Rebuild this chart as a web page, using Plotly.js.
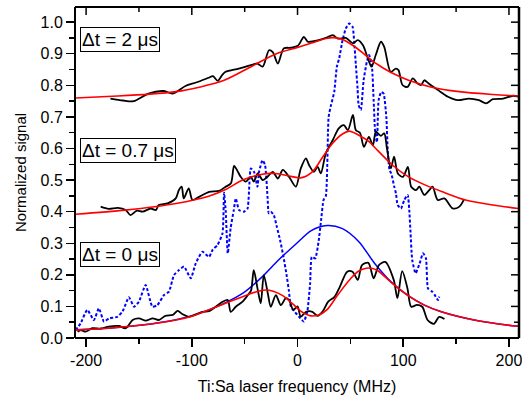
<!DOCTYPE html>
<html>
<head>
<meta charset="utf-8">
<script src="https://cdn.plot.ly/plotly-3.0.1.min.js"></script>
<style>html,body{margin:0;padding:0;background:#fff;overflow:hidden}#chart{width:522px;height:395px}</style>
</head>
<body>
<div id="chart"></div>
<script>
// ---- tick labels ----
const xTickVals = [-200, -100, 0, 100, 200];
const xTickText = ["-200", "-100", "0", "100", "200"];
const xMinorVals = [-150, -50, 50, 150];
const yTickVals = [0, 0.1, 0.2, 0.3, 0.4, 0.5, 0.6, 0.7, 0.8, 0.9, 1.0];
const yTickText = ["0.0", "0.1", "0.2", "0.3", "0.4", "0.5", "0.6", "0.7", "0.8", "0.9", "1.0"];
const yMinorVals = [0.05, 0.15, 0.25, 0.35, 0.45, 0.55, 0.65, 0.75, 0.85, 0.95];
const labels = ["\u0394t = 2 \u03bcs", "\u0394t = 0.7 \u03bcs", "\u0394t = 0 \u03bcs"];
const labelY = [0.945, 0.593, 0.263];

// ---- Δt = 2 µs : data and fit ----
const top2X = [-177,-165,-155,-141,-127,-118,-106,-96,-84,-80,-75.5,-71,-68,-55.6,-44,-38,-33,-27,-23.4,-18.6,-13,-6.3,0.3,6,9.8,15.4,20,26.8,33.4,38,45.7,52.4,57,61.9,66.6,70,74,78.9,82,88.1,93,95.5,99.3,104,109,113.6,117,119.9,124,132.9,142.3,151.8,162,171.6,178.3,184.9,194.4,204,209];
const top2Y = [0.758,0.752,0.750,0.774,0.782,0.774,0.798,0.809,0.824,0.829,0.814,0.834,0.843,0.853,0.864,0.869,0.859,0.911,0.905,0.869,0.917,0.919,0.925,0.953,0.938,0.940,0.943,0.950,0.959,0.948,0.950,0.933,0.943,0.927,0.885,0.859,0.896,0.938,0.922,0.843,0.853,0.848,0.801,0.795,0.822,0.806,0.801,0.816,0.806,0.785,0.764,0.753,0.758,0.753,0.743,0.756,0.758,0.767,0.764];
const fit2X = [-210,-170,-140,-115,-92,-70,-44,-20,0,14,27,34,42,52,62,72,81,90,105,126,153,185,209];
const fit2Y = [0.760,0.766,0.772,0.780,0.795,0.815,0.859,0.900,0.920,0.935,0.948,0.951,0.946,0.927,0.902,0.874,0.855,0.838,0.816,0.795,0.780,0.771,0.766];

// ---- Δt = 0.7 µs : data and fit ----
const mid07X = [-186.2,-178.7,-170,-162.6,-158,-152,-146.5,-138.9,-134,-131.3,-122.9,-115.2,-112.3,-109.6,-107.6,-102.9,-99.4,-93.1,-83.6,-74.2,-68,-63,-60,-57,-53.7,-49,-44.2,-41.4,-37.6,-32.9,-28,-23.4,-18.6,-13.9,-8,-1.6,3.1,7.9,11,15.4,19,22,26.8,33.4,39,43.8,47.6,52.4,55.2,59,62.8,67.5,71.3,74.1,78.8,82,84.6,88.3,91.3,94.9,99.7,104.4,107.5,112,115.2,119.9,124.6,127.8,132.6,138.9,146.9,153.1,157.5];
const mid07Y = [0.416,0.409,0.412,0.405,0.389,0.403,0.400,0.410,0.405,0.421,0.426,0.442,0.468,0.479,0.442,0.474,0.437,0.447,0.463,0.466,0.479,0.490,0.545,0.530,0.510,0.495,0.510,0.495,0.521,0.500,0.512,0.526,0.505,0.532,0.510,0.479,0.537,0.569,0.547,0.526,0.542,0.521,0.585,0.627,0.664,0.674,0.658,0.706,0.658,0.650,0.605,0.637,0.610,0.653,0.640,0.648,0.600,0.537,0.574,0.521,0.510,0.542,0.479,0.468,0.479,0.453,0.468,0.479,0.437,0.442,0.410,0.416,0.439];
const fit07X = [-210,-163,-115,-84,-68,-52,-36,-21,-5,3,14,24,33,42.5,49,58,68,74,90,105,121,137,159,185,209];
const fit07Y = [0.392,0.405,0.426,0.449,0.470,0.500,0.517,0.521,0.511,0.507,0.526,0.574,0.616,0.646,0.655,0.642,0.621,0.600,0.547,0.510,0.484,0.463,0.437,0.421,0.410];

// ---- Δt = 0 µs : data and fit ----
const bot0X = [-208,-205,-200.5,-194,-186,-178.7,-169,-162.6,-156,-150,-143.6,-137,-131.3,-125,-118,-113.4,-108.6,-102.9,-96.3,-89.7,-83.6,-77.4,-70.7,-66,-63.2,-58.4,-52,-47,-44,-41.4,-37.6,-34.8,-31.9,-28.1,-25.3,-20.5,-15.8,-11,-8,-4,0,3,8,14,19,24,29,35,40,47,52,57,61,67,72,77,83,91,94.5,99,104,107.5,113,118,123,129,134,139];
const bot0Y = [0.020,0.025,0.020,0.031,0.030,0.036,0.038,0.031,0.057,0.062,0.055,0.062,0.057,0.070,0.073,0.086,0.075,0.067,0.075,0.083,0.085,0.099,0.115,0.120,0.083,0.099,0.115,0.136,0.150,0.215,0.152,0.110,0.199,0.141,0.099,0.136,0.104,0.126,0.120,0.089,0.100,0.068,0.083,0.083,0.070,0.085,0.115,0.130,0.162,0.210,0.210,0.184,0.231,0.238,0.189,0.231,0.241,0.184,0.126,0.212,0.157,0.099,0.105,0.099,0.057,0.045,0.067,0.060];
const fit0X = [-210,-179,-147,-115,-99,-84,-68,-52,-37,-30,-23,-14,-4.5,3,12.6,20,28,38,50.5,58,65,71,76,88,104,120,136,167,203,209];
const fit0Y = [0.025,0.031,0.041,0.057,0.070,0.089,0.110,0.131,0.148,0.152,0.148,0.134,0.108,0.085,0.070,0.073,0.090,0.136,0.189,0.212,0.221,0.220,0.213,0.178,0.136,0.104,0.083,0.057,0.039,0.037];

// ---- blue: single-peak profile and probe trace ----
const singleX = [-210,-179,-147,-115,-99,-84,-68,-52,-34,-18,-2,13,28,42,58,73,89,105,120,136,167,203,209];
const singleY = [0.026,0.031,0.041,0.058,0.071,0.089,0.112,0.141,0.192,0.247,0.296,0.340,0.356,0.347,0.305,0.236,0.176,0.133,0.104,0.083,0.057,0.039,0.037];
const probeX = [-210,-205.2,-198.9,-192.6,-187.9,-183.1,-178.4,-170.5,-165.4,-159.5,-154.7,-150,-143.7,-137.3,-132.6,-126.3,-121.6,-116.9,-112.1,-107.4,-101,-96.3,-90,-83.7,-80.2,-75.8,-71,-69.5,-67.9,-66,-63.2,-60.3,-58.4,-55.3,-50.6,-47.3,-44.2,-41.1,-37.9,-36.4,-33.1,-30.7,-28.4,-27.2,-25.3,-22.4,-19.6,-16.5,-13.3,-10.1,-8.2,-6.3,-3.2,1.5,4.1,6,9.3,11.9,13.5,16.7,19.9,22.3,24.6,26.8,29.4,31.5,34.7,37.2,39.4,42.6,45.7,48.9,52.1,53.6,55.2,56.8,57.8,59.9,62.5,65.6,67.8,70.4,72,73.5,75.1,76.7,79.2,81.4,84,85.3,87,88.7,91.5,93.1,94.7,97.8,101,104.2,105.7,106.8,108.5,111.7,115.5,118.7,121.5,123.4,127.2,130,132.9,134.1];
const probeY = [0.025,0.046,0.089,0.057,0.094,0.052,0.062,0.067,0.085,0.129,0.099,0.115,0.168,0.099,0.104,0.136,0.147,0.199,0.215,0.226,0.189,0.236,0.273,0.257,0.280,0.294,0.331,0.460,0.400,0.268,0.350,0.405,0.442,0.405,0.400,0.410,0.537,0.526,0.479,0.526,0.563,0.547,0.448,0.395,0.400,0.389,0.352,0.310,0.257,0.194,0.150,0.100,0.085,0.067,0.057,0.052,0.085,0.173,0.257,0.252,0.305,0.373,0.437,0.450,0.700,0.735,0.779,0.859,0.885,0.943,0.980,0.996,0.985,0.938,0.864,0.790,0.737,0.722,0.816,0.875,0.896,0.859,0.753,0.648,0.620,0.753,0.779,0.774,0.700,0.595,0.532,0.521,0.479,0.458,0.421,0.410,0.437,0.453,0.405,0.340,0.247,0.205,0.236,0.268,0.252,0.157,0.147,0.135,0.120,0.131];

const XR = [-210.5, 209.5];
const YR = [0, 1.048];
const PLOT_W = 444, PLOT_H = 331;
const MAJOR = 8, MINOR = 5;

function line(x, y, color, width, extra) {
  return Object.assign({
    type: 'scatter', mode: 'lines', x: x, y: y,
    line: {color: color, width: width, shape: 'spline', smoothing: 0.8},
    hoverinfo: 'skip', showlegend: false
  }, extra || {});
}

const traces = [
  line(probeX, probeY, '#0000ff', 2, {line: {color: '#0000ff', width: 2, dash: '3px,2px', shape: 'spline', smoothing: 0.5}}),
  line(singleX, singleY, '#0000ff', 1.5),
  line(top2X, top2Y, '#000000', 1.8),
  line(mid07X, mid07Y, '#000000', 1.8),
  line(bot0X, bot0Y, '#000000', 1.8),
  line(fit2X, fit2Y, '#ff0000', 1.6),
  line(fit07X, fit07Y, '#ff0000', 1.6),
  line(fit0X, fit0Y, '#ff0000', 1.6)
];

// mirrored inward ticks on the top and right frame, placed through the axes' own scales
const tickStyle = {color: '#000', width: 1.5};
const frame = [
  {type: 'line', xref: 'paper', yref: 'paper', x0: 0, x1: 1, y0: 1, y1: 1, line: {color: '#000', width: 2}, layer: 'above'},
  {type: 'line', xref: 'paper', yref: 'paper', x0: 1, x1: 1, y0: 0, y1: 1, line: {color: '#000', width: 2.5}, layer: 'above'},
  {type: 'line', xref: 'paper', yref: 'paper', x0: 0, x1: 1, y0: 0, y1: 0, line: {color: '#000', width: 2}, layer: 'above'},
  {type: 'line', xref: 'paper', yref: 'paper', x0: 0, x1: 0, y0: 0, y1: 1, line: {color: '#000', width: 2}, layer: 'above'}
];
const mirrorTicks = [];
xTickVals.forEach(v => mirrorTicks.push({type: 'line', xref: 'x', yref: 'paper', x0: v, x1: v, y0: 1, y1: 1 - MAJOR / PLOT_H, line: tickStyle, layer: 'above'}));
xMinorVals.forEach(v => mirrorTicks.push({type: 'line', xref: 'x', yref: 'paper', x0: v, x1: v, y0: 1, y1: 1 - MINOR / PLOT_H, line: tickStyle, layer: 'above'}));
yTickVals.forEach(v => mirrorTicks.push({type: 'line', xref: 'paper', yref: 'y', y0: v, y1: v, x0: 1, x1: 1 - MAJOR / PLOT_W, line: tickStyle, layer: 'above'}));
yMinorVals.forEach(v => mirrorTicks.push({type: 'line', xref: 'paper', yref: 'y', y0: v, y1: v, x0: 1, x1: 1 - MINOR / PLOT_W, line: tickStyle, layer: 'above'}));

const FONT = 'Liberation Sans, Arial, sans-serif';
const layout = {
  width: 522, height: 395,
  margin: {l: 75, r: 3, t: 7, b: 57, pad: 0},
  paper_bgcolor: '#fff', plot_bgcolor: '#fff',
  showlegend: false, hovermode: false,
  font: {family: FONT, size: 16, color: '#000'},
  xaxis: {
    range: XR, showgrid: false, zeroline: false, showline: false,
    ticks: 'outside', ticklen: MAJOR, tickwidth: 1.5, tickcolor: '#000',
    tickmode: 'array', tickvals: xTickVals, ticktext: xTickText,
    ticklabeloverflow: 'allow',
    tickfont: {family: FONT, size: 16, color: '#000'},
    minor: {tickmode: 'array', tickvals: xMinorVals, ticks: 'outside', ticklen: MINOR, tickwidth: 1.5, tickcolor: '#000', showgrid: false},
    title: {text: 'Ti:Sa laser frequency (MHz)', font: {family: FONT, size: 16, color: '#000'}, standoff: 14}
  },
  yaxis: {
    range: YR, showgrid: false, zeroline: false, showline: false,
    ticks: 'outside', ticklen: MAJOR, tickwidth: 1.5, tickcolor: '#000',
    tickmode: 'array', tickvals: yTickVals, ticktext: yTickText,
    tickfont: {family: FONT, size: 16, color: '#000'},
    minor: {tickmode: 'array', tickvals: yMinorVals, ticks: 'outside', ticklen: MINOR, tickwidth: 1.5, tickcolor: '#000', showgrid: false},
    title: {text: 'Normalized signal', font: {family: FONT, size: 15, color: '#000'}, standoff: 10}
  },
  shapes: frame.concat(mirrorTicks),
  annotations: labels.map((t, i) => ({
    text: t, xref: 'x', yref: 'y', x: -206, y: labelY[i],
    xanchor: 'left', yanchor: 'middle', showarrow: false,
    font: {family: FONT, size: 19, color: '#000'},
    bordercolor: '#000', borderwidth: 1, borderpad: 1, bgcolor: 'rgba(255,255,255,0)'
  }))
};

Plotly.newPlot('chart', traces, layout, {staticPlot: true, displayModeBar: false});
</script>
</body>
</html>
